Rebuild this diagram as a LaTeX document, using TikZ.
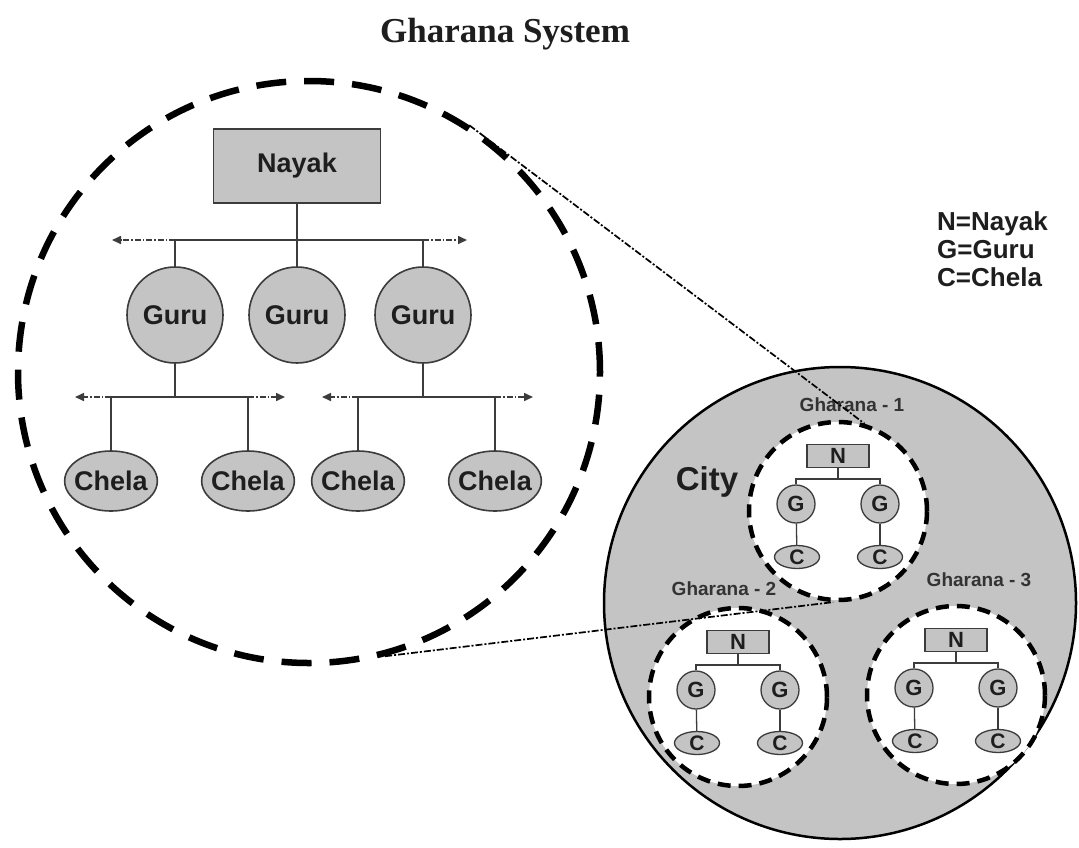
\documentclass[tikz,border=0pt]{standalone}
\usepackage{fontspec}
\setmainfont{Liberation Serif}
\setsansfont{Liberation Sans}
\usetikzlibrary{positioning, arrows.meta, shapes.geometric, calc}
\definecolor{fillg}{HTML}{C4C4C4}
\definecolor{edge}{HTML}{3C3C3C}
\definecolor{ink}{HTML}{1E1E1E}
\definecolor{gray33}{HTML}{333333}

\begin{document}
\begin{tikzpicture}[
    x=1pt, y=-1pt,
    >=Stealth,
    box/.style={draw=edge, fill=fillg, line width=1.6pt, minimum width=167pt, minimum height=74pt,
                inner sep=0pt, font=\sffamily\bfseries\fontsize{27}{29}\selectfont, text=ink},
    guru/.style={circle, draw=edge, fill=fillg, line width=1.6pt, minimum size=96pt, inner sep=0pt,
                 font=\sffamily\bfseries\fontsize{27}{29}\selectfont, text=ink},
    chela/.style={ellipse, draw=edge, fill=fillg, line width=1.6pt, minimum width=92pt, minimum height=60pt,
                  inner xsep=-4pt, inner ysep=0pt, font=\sffamily\bfseries\fontsize{27}{29}\selectfont, text=ink},
    tree/.style={draw=edge, line width=1.6pt},
    spread/.style={edge, line width=1.6pt, dash pattern=on 6pt off 2pt on 1.5pt off 2pt,
                   -{Triangle[length=9pt, width=8pt]}},
    sbox/.style={draw=edge, fill=fillg, line width=1.3pt, minimum width=62pt, minimum height=23pt,
                 inner sep=0pt, font=\sffamily\bfseries\fontsize{22}{24}\selectfont, text=ink},
    sguru/.style={circle, draw=edge, fill=fillg, line width=1.3pt, minimum size=38pt, inner sep=0pt,
                  font=\sffamily\bfseries\fontsize{22}{24}\selectfont, text=ink},
    schela/.style={ellipse, draw=edge, fill=fillg, line width=1.3pt, minimum width=45pt, minimum height=23pt,
                   inner sep=0pt, font=\sffamily\bfseries\fontsize{21}{23}\selectfont, text=ink},
    stree/.style={draw=edge, line width=1.3pt},
    zoomc/.style={circle, draw=black, line width=6.5pt, dash pattern=on 30pt off 18pt, minimum size=582pt},
    gharana/.style={circle, draw=black, fill=white, line width=4.5pt, dash pattern=on 13pt off 8pt, minimum size=178pt},
    gname/.style={font=\sffamily\bfseries\fontsize{19}{21}\selectfont, text=gray33},
    zoomline/.style={black, line width=1.7pt, dash pattern=on 7pt off 2pt on 2pt off 2pt},
]
\useasboundingbox (0,0) rectangle (1079,847);

% Title
\node[font=\bfseries\fontsize{35}{37}\selectfont, text=ink] (title) at (505,34) {Gharana System};

% Enlarged gharana
\node[zoomc] (zoom) at (309,372) {};
\node[box] (nayak) at (297,166) {Nayak};
\node[guru] (guru1) at (175,315) {Guru};
\node[guru] (guru2) at (297,315) {Guru};
\node[guru] (guru3) at (423,315) {Guru};
\node[chela] (chela1) at (111,481) {Chela};
\node[chela] (chela2) at (248,481) {Chela};
\node[chela] (chela3) at (358,481) {Chela};
\node[chela] (chela4) at (495,481) {Chela};

\coordinate (bar1) at (297,240);
\coordinate (bar2) at (175,397);
\coordinate (bar3) at (423,397);
\coordinate (l1) at (112,240);
\coordinate (r1) at (467,240);
\coordinate (l2) at (75,397);
\coordinate (r2) at (285,397);
\coordinate (l3) at (322,397);
\coordinate (r3) at (533,397);

\draw[tree] (nayak) -- (guru2);
\draw[tree] (guru1) |- (bar1) -| (guru3);
\draw[spread] (guru1 |- bar1) -- (l1);
\draw[spread] (guru3 |- bar1) -- (r1);

\draw[tree] (guru1) -- (bar2);
\draw[tree] (chela1) |- (bar2) -| (chela2);
\draw[spread] (chela1 |- bar2) -- (l2);
\draw[spread] (chela2 |- bar2) -- (r2);

\draw[tree] (guru3) -- (bar3);
\draw[tree] (chela3) |- (bar3) -| (chela4);
\draw[spread] (chela3 |- bar3) -- (l3);
\draw[spread] (chela4 |- bar3) -- (r3);

% Legend
\node[anchor=north west, align=left, inner sep=0pt, text=ink,
      font=\sffamily\bfseries\fontsize{26}{28}\selectfont] (key) at (937,211) {N=Nayak\\G=Guru\\C=Chela};

% City with three gharanas
\node[circle, draw=black, fill=fillg, line width=2.5pt, minimum size=472pt] (city) at (840,603) {};
\node[font=\sffamily\bfseries\fontsize{33}{35}\selectfont, text=ink] (cityname) at (707,482) {City};

\foreach \g/\cx/\cy/\lx/\ly/\num in {g1/838/511/852/405/1, g2/738/697/724/589/2, g3/956/695/979/580/3} {
  \node[gharana] (\g) at (\cx,\cy) {};
  \node[gname] (\g-name) at (\lx,\ly) {Gharana - \num};
  \begin{scope}[shift={(\cx,\cy)}]
    \node[sbox] (\g-n) at (0,-55) {N};
    \node[sguru] (\g-ga) at (-42,-7) {G};
    \node[sguru] (\g-gb) at (42,-7) {G};
    \node[schela] (\g-ca) at (-41,46) {C};
    \node[schela] (\g-cb) at (42,46) {C};
    \coordinate (\g-bar) at (0,-32);
  \end{scope}
  \draw[stree] (\g-n) -- (\g-bar);
  \draw[stree] (\g-ga) |- (\g-bar) -| (\g-gb);
  \draw[stree] (\g-ga) -- (\g-ca);
  \draw[stree] (\g-gb) -- (\g-cb);
}

% Zoom lines
\draw[zoomline] (zoom.57.4) -- (g1.73.4);
\draw[zoomline] (zoom.-75.2) -- (g1.-93.3);

\end{tikzpicture}
\end{document}
